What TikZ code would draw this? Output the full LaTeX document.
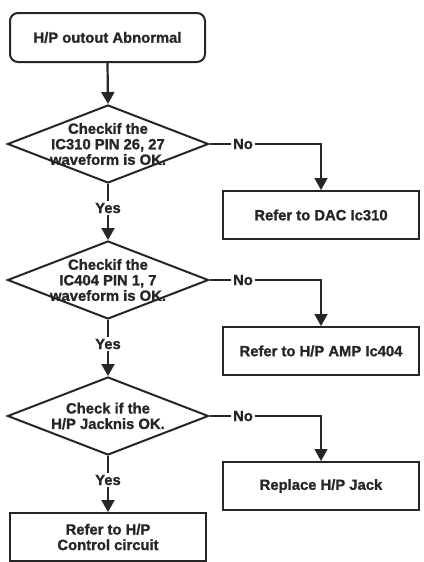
\documentclass[tikz,border=0pt]{standalone}
\usepackage{fontspec}
\setmainfont{Liberation Sans}[BoldFeatures={FakeBold=1.2}]
\usetikzlibrary{shapes.geometric,arrows.meta}
\begin{document}
\begin{tikzpicture}[x=1pt,y=-1pt,
  every node/.style={font=\fontsize{14.8}{15.5}\selectfont\bfseries, text=black!85},
  line/.style={draw=black!85, line width=2.2pt},
  arr/.style={line, -{Triangle[length=12pt,width=13pt]}},
  startbox/.style={draw=black!85, line width=2pt, rounded corners=8pt, minimum width=195pt, minimum height=49pt, inner sep=0pt},
  procbox/.style={draw=black!85, line width=2pt, minimum width=196pt, minimum height=48pt, inner sep=0pt, align=center},
  dia/.style={draw=black!85, line width=2pt, diamond, minimum width=201pt, minimum height=78pt, inner sep=0pt},
  dtext/.style={align=center, inner sep=0pt},
  lab/.style={inner sep=2pt, fill=white}
]
\useasboundingbox (0,0) rectangle (423,562);

\node[startbox] (start) at (107.5,37.5) {H/P outout Abnormal};

\node[dia] (d1) at (108,144) {};
\node[dtext] (t1) at (d1) {Checkif the\\IC310 PIN 26, 27\\waveform is OK.};
\node[procbox] (b1) at (321,215) {Refer to DAC Ic310};

\node[dia] (d2) at (108,280) {};
\node[dtext] (t2) at (d2) {Checkif the\\IC404 PIN 1, 7\\waveform is OK.};
\node[procbox] (b2) at (321,351) {Refer to H/P AMP Ic404};

\node[dia] (d3) at (108,416) {};
\node[dtext] (t3) at (d3) {Check if the\\H/P Jacknis OK.};
\node[procbox] (b3) at (321,486) {Replace H/P Jack};

\node[procbox] (b4) at (108,537) {Refer to H/P\\Control circuit};

\node[lab] (y1) at (108,208) {Yes};
\node[lab] (y2) at (108,344) {Yes};
\node[lab] (y3) at (108,480) {Yes};

\node[lab] (n1) at (243,144) {No};
\node[lab] (n2) at (243,280) {No};
\node[lab] (n3) at (243,416) {No};

\draw[arr] (start.south) -- (d1.north);

\draw[line] (d1.south) -- (y1.north);
\draw[arr] (y1.south) -- (d2.north);
\draw[line] (d2.south) -- (y2.north);
\draw[arr] (y2.south) -- (d3.north);
\draw[line] (d3.south) -- (y3.north);
\draw[arr] (y3.south) -- (b4.north);

\draw[line, line width=1.6pt] (d1.east) -- (n1.west);
\draw[arr, line width=1.6pt] (n1.east) -| (b1.north);
\draw[line, line width=1.6pt] (d2.east) -- (n2.west);
\draw[arr, line width=1.6pt] (n2.east) -| (b2.north);
\draw[line, line width=1.6pt] (d3.east) -- (n3.west);
\draw[arr, line width=1.6pt] (n3.east) -| (b3.north);
\end{tikzpicture}
\end{document}
